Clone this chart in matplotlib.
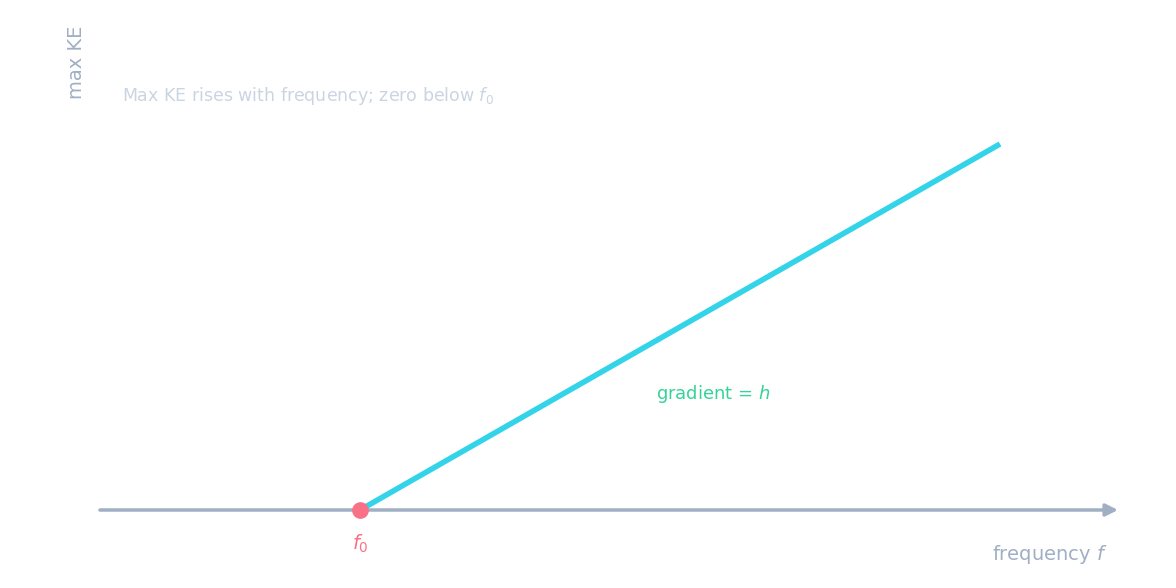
import matplotlib
matplotlib.use("Agg")
import matplotlib.pyplot as plt

# data (pixel-like units on a custom axis)
freq = [360, 1000]
ke = [0, 366]
f0 = 360
axis_x = [100, 1118]

fig = plt.figure(figsize=(11.76, 5.88), dpi=100)
ax = fig.add_axes([0, 0, 1, 1])
ax.set_xlim(0, 1176)
ax.set_ylim(-78, 510)
ax.axis("off")

gray = "#a0afc4"
ax.annotate("", xy=(axis_x[1], 0), xytext=(axis_x[0], 0),
            arrowprops=dict(arrowstyle="-|>", color=gray, lw=2.5, mutation_scale=18,
                            shrinkA=0, shrinkB=0))
ax.plot(freq, ke, color="#33d4ea", lw=4, solid_capstyle="butt", zorder=3)
ax.plot([f0], [0], "o", color="#f87187", ms=11, zorder=4)
ax.text(f0, -34, "$f_0$", color="#f87187", fontsize=14, ha="center", va="center")
ax.text(1108, -45, "frequency $f$", color=gray, fontsize=14, ha="right", va="center")
ax.text(76, 510 - 62, "max KE", color=gray, fontsize=14, rotation=90, ha="center", va="center")
ax.text(122, 510 - 96, "Max KE rises with frequency; zero below $f_0$", color="#cbd5e1",
        fontsize=12.5, ha="left", va="center")
ax.text(656, 510 - 394, "gradient = $h$", color="#34d399", fontsize=13, ha="left", va="center")

fig.savefig("out.png", dpi=100)
